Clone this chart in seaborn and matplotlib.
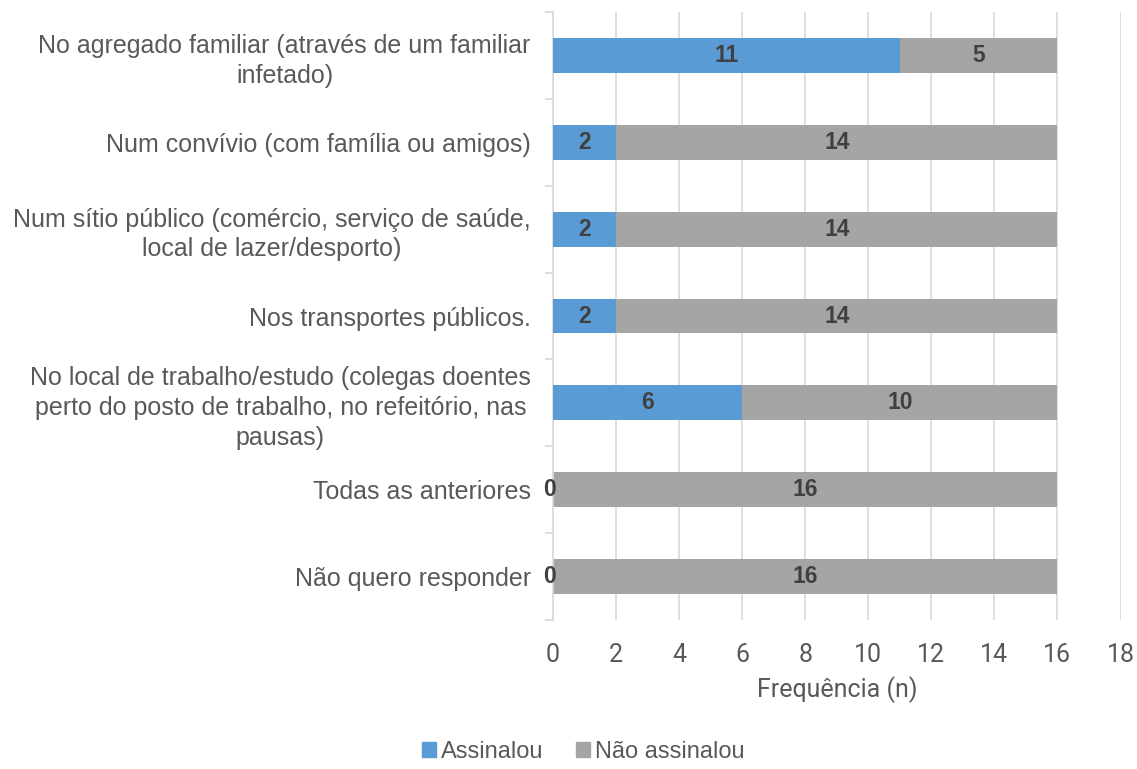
import numpy as np
import pandas as pd
import seaborn as sns
import matplotlib
matplotlib.use('Agg')
import matplotlib.pyplot as plt
from matplotlib.patches import Patch

categories = [
    "No agregado familiar (através de um familiar\ninfetado)",
    "Num convívio (com família ou amigos)",
    "Num sítio público (comércio, serviço de saúde,\nlocal de lazer/desporto)",
    "Nos transportes públicos.",
    "No local de trabalho/estudo (colegas doentes\nperto do posto de trabalho, no refeitório, nas\npausas)",
    "Todas as anteriores",
    "Não quero responder",
]
assinalou = [11, 2, 2, 2, 6, 0, 0]
nao_assinalou = [5, 14, 14, 14, 10, 16, 16]
series_names = ["Assinalou", "Não assinalou"]
x_ticks = [0, 2, 4, 6, 8, 10, 12, 14, 16, 18]

blue = "#5B9BD5"
gray = "#A5A5A5"
text_col = "#595959"
narrow = ["Liberation Sans Narrow", "Roboto", "DejaVu Sans"]

sns.set_theme(style="white")
plt.rcParams['font.family'] = ['Liberation Sans', 'DejaVu Sans']

df = pd.DataFrame({"cat": categories, "a": assinalou, "n": nao_assinalou})
df["total"] = df["a"] + df["n"]

fig = plt.figure(figsize=(11.37, 7.69), dpi=100)
ax = fig.add_axes([0.4864, 0.194, 0.9855 - 0.4864, 0.984 - 0.194])

# stacked: full total in gray, then the blue part on top starting at 0
sns.barplot(data=df, x="total", y="cat", color=gray, saturation=1, width=0.4,
            orient="h", ax=ax, zorder=2, linewidth=0)
sns.barplot(data=df, x="a", y="cat", color=blue, saturation=1, width=0.4,
            orient="h", ax=ax, zorder=3, linewidth=0)

for i, (a, n) in enumerate(zip(assinalou, nao_assinalou)):
    ax.text(a / 2 - (0.1 if a == 0 else 0), i, str(a), ha="center", va="center",
            fontsize=16.5, fontweight="bold", color="#404040", zorder=4)
    ax.text(a + n / 2, i, str(n), ha="center", va="center", fontsize=16.5,
            fontweight="bold", color="#404040", zorder=4)

ax.set_xlim(0, 18)
ax.set_ylim(6.5, -0.5)
ax.set_xticks(x_ticks)
ax.set_xticklabels([str(t) for t in x_ticks], fontsize=18, color=text_col,
                   fontfamily=narrow)
ax.xaxis.grid(True, color="#D9D9D9", linewidth=1.2, zorder=0)
ax.set_axisbelow(True)
ax.tick_params(axis="x", length=0, pad=17)

ax.set_yticks(range(len(categories)))
ax.set_yticklabels(categories, fontsize=18, color=text_col,
                   multialignment="center", linespacing=1.3)
ax.tick_params(axis="y", which="major", length=0, pad=16)
ax.set_yticks(np.arange(-0.5, len(categories), 1.0), minor=True)
ax.tick_params(axis="y", which="minor", length=6, color="#D9D9D9", width=1.2, left=True)

for side in ["top", "right", "bottom"]:
    ax.spines[side].set_visible(False)
ax.spines["left"].set_color("#D9D9D9")
ax.spines["left"].set_linewidth(1.2)

ax.set_ylabel("")
ax.set_xlabel("Frequência (n)", fontsize=18, color=text_col, fontfamily=narrow,
              labelpad=6)

handles = [Patch(color=blue), Patch(color=gray)]
fig.legend(handles, series_names, loc="lower center", bbox_to_anchor=(0.513, -0.02),
           ncol=2, frameon=False, fontsize=17, handlelength=0.6, handleheight=0.6,
           handletextpad=0.2, columnspacing=1.4, labelcolor=text_col)

fig.savefig("out.png", dpi=100)
